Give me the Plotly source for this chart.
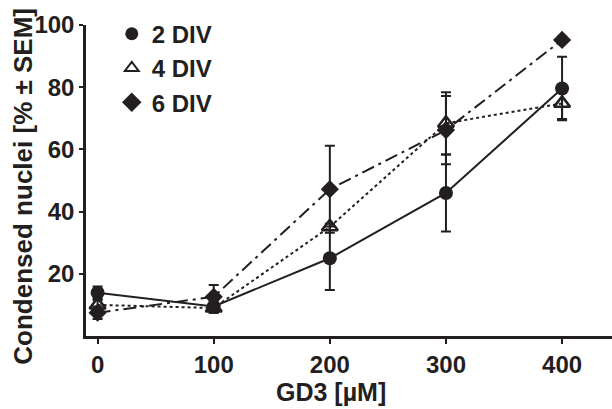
import plotly.graph_objects as go

doses = [0, 100, 200, 300, 400]
x_ticks = [0, 100, 200, 300, 400]
y_ticks = [20, 40, 60, 80, 100]

div2 = [13.9, 9.5, 25.0, 46.0, 79.6]
div2_err = [2.0, 2.0, 10.2, 12.4, 10.2]
div4 = [10.0, 9.0, 35.1, 68.4, 74.8]
div4_err = [1.5, 1.5, 1.0, 10.0, 5.0]
div6 = [7.5, 12.6, 47.2, 66.2, 95.2]
div6_err = [2.0, 3.8, 14.0, 11.0, 1.0]

names = ["2 DIV", "4 DIV", "6 DIV"]

FONT = dict(family="Liberation Sans, Arial, sans-serif", color="#231f20", weight="bold")
BLACK = "#231f20"

fig = go.Figure()

series = [
    (div2, div2_err, "solid", dict(symbol="circle", size=14, color=BLACK)),
    (div4, div4_err, "3px,3px", dict(symbol="triangle-up-open", size=14, color=BLACK, line=dict(width=2.5, color=BLACK))),
    (div6, div6_err, "13px,5px,3px,5px", dict(symbol="diamond", size=14, color=BLACK)),
]

for (vals, errs, dash, mk), name in zip(series, names):
    fig.add_trace(go.Scatter(
        x=doses, y=vals, mode="lines+markers", name=name, showlegend=False,
        line=dict(color=BLACK, width=2, dash=dash),
        marker=mk,
        error_y=dict(type="data", array=errs, visible=True, color=BLACK, thickness=2, width=5),
    ))

legend_markers = [
    dict(symbol="circle", size=13, color=BLACK),
    dict(symbol="triangle-up-open", size=12, color=BLACK, line=dict(width=2, color=BLACK)),
    dict(symbol="diamond", size=15, color=BLACK),
]
for name, mk in zip(names, legend_markers):
    fig.add_trace(go.Scatter(x=[None], y=[None], mode="markers", name=name, marker=mk))

fig.update_layout(
    width=612, height=409,
    margin=dict(l=86, r=0, t=25, b=73, autoexpand=False),
    paper_bgcolor="white", plot_bgcolor="white",
    font=dict(size=24, **FONT),
    showlegend=True,
    legend=dict(x=0.049, y=1.043, xanchor="left", yanchor="top", bgcolor="rgba(0,0,0,0)",
                font=dict(size=24, **FONT), tracegroupgap=0, itemwidth=30),
    xaxis=dict(range=[-10, 443], tickvals=x_ticks, ticks="outside", ticklen=5, tickwidth=2,
               tickcolor=BLACK, showline=True, linecolor=BLACK, linewidth=2.5,
               showgrid=False, zeroline=False, tickfont=dict(size=24, **FONT)),
    yaxis=dict(range=[0, 100], tickvals=y_ticks, ticks="outside", ticklen=4, tickwidth=2,
               tickcolor=BLACK, showline=True, linecolor=BLACK, linewidth=2.5,
               showgrid=False, zeroline=False, tickfont=dict(size=24, **FONT)),
    annotations=[
        dict(text="GD3 [µM]", xref="paper", yref="paper", x=0.466, y=-0.18,
             xanchor="center", yanchor="middle", showarrow=False, font=dict(size=25, **FONT)),
        dict(text="Condensed nuclei [% ± SEM]", xref="paper", yref="paper", x=-0.12, y=0.483,
             xanchor="center", yanchor="middle", showarrow=False, textangle=-90,
             font=dict(size=26, **FONT)),
    ],
)

fig.write_html("out.html", config={"displayModeBar": False},
               post_script="document.body.style.margin='0';document.body.style.overflow='hidden';")
